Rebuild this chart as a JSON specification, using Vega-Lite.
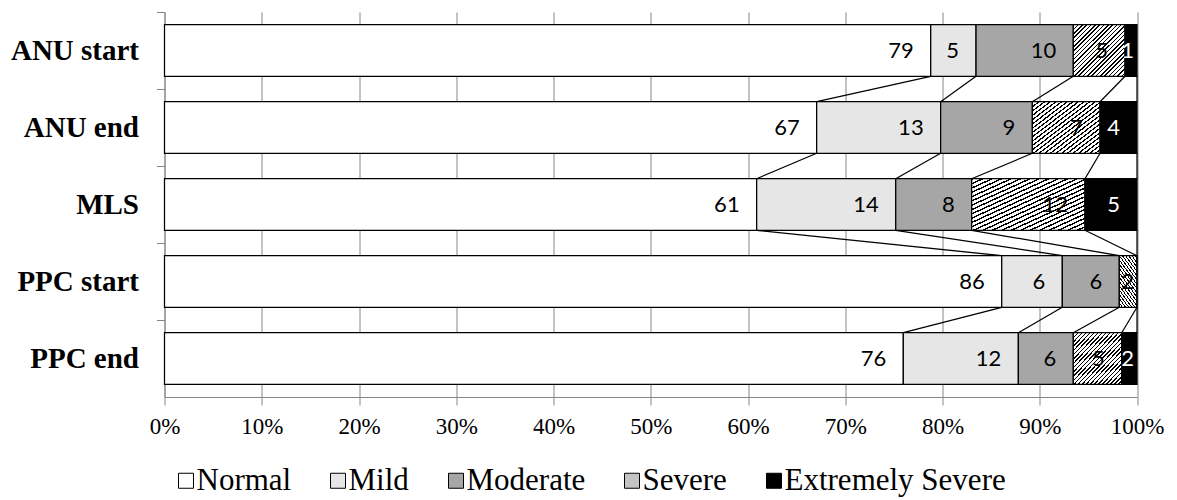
{
  "$schema": "https://vega.github.io/schema/vega-lite/v6.json",
  "width": 972.5,
  "height": 385,
  "autosize": {"type": "none"},
  "padding": {"left": 164.5, "top": 12, "right": 40, "bottom": 103},
  "config": {"view": {"stroke": null}},
  "datasets": {
    "bars": [
      {"group": "ANU start", "gi": 1, "level": "Normal", "k": 1, "value": 78.79},
      {"group": "ANU start", "gi": 1, "level": "Mild", "k": 2, "value": 4.66},
      {"group": "ANU start", "gi": 1, "level": "Moderate", "k": 3, "value": 10.00},
      {"group": "ANU start", "gi": 1, "level": "Severe", "k": 4, "value": 5.32},
      {"group": "ANU start", "gi": 1, "level": "Extremely Severe", "k": 5, "value": 1.23},
      {"group": "ANU end", "gi": 2, "level": "Normal", "k": 1, "value": 67.06},
      {"group": "ANU end", "gi": 2, "level": "Mild", "k": 2, "value": 12.75},
      {"group": "ANU end", "gi": 2, "level": "Moderate", "k": 3, "value": 9.43},
      {"group": "ANU end", "gi": 2, "level": "Severe", "k": 4, "value": 6.96},
      {"group": "ANU end", "gi": 2, "level": "Extremely Severe", "k": 5, "value": 3.80},
      {"group": "MLS", "gi": 3, "level": "Normal", "k": 1, "value": 60.89},
      {"group": "MLS", "gi": 3, "level": "Mild", "k": 2, "value": 14.30},
      {"group": "MLS", "gi": 3, "level": "Moderate", "k": 3, "value": 7.81},
      {"group": "MLS", "gi": 3, "level": "Severe", "k": 4, "value": 11.65},
      {"group": "MLS", "gi": 3, "level": "Extremely Severe", "k": 5, "value": 5.35},
      {"group": "PPC start", "gi": 4, "level": "Normal", "k": 1, "value": 86.09},
      {"group": "PPC start", "gi": 4, "level": "Mild", "k": 2, "value": 6.23},
      {"group": "PPC start", "gi": 4, "level": "Moderate", "k": 3, "value": 5.86},
      {"group": "PPC start", "gi": 4, "level": "Severe", "k": 4, "value": 1.82},
      {"group": "PPC start", "gi": 4, "level": "Extremely Severe", "k": 5, "value": 0},
      {"group": "PPC end", "gi": 5, "level": "Normal", "k": 1, "value": 75.97},
      {"group": "PPC end", "gi": 5, "level": "Mild", "k": 2, "value": 11.83},
      {"group": "PPC end", "gi": 5, "level": "Moderate", "k": 3, "value": 5.65},
      {"group": "PPC end", "gi": 5, "level": "Severe", "k": 4, "value": 4.98},
      {"group": "PPC end", "gi": 5, "level": "Extremely Severe", "k": 5, "value": 1.57}
    ]
  },
  "layer": [
    {
      "data": {"name": "bars"},
      "transform": [
        {"stack": "value", "groupby": ["group"], "sort": [{"field": "k", "order": "ascending"}], "as": ["v0", "v1"]}
      ],
      "mark": {"type": "bar", "stroke": "black", "strokeWidth": 1.25},
      "encoding": {
        "y": {
          "field": "group", "type": "nominal",
          "scale": {"domain": ["ANU start", "ANU end", "MLS", "PPC start", "PPC end"], "paddingInner": 0.33, "paddingOuter": 0.165},
          "axis": {
            "title": null, "bandPosition": 0, "tickOffset": -12.7, "labelOffset": 12.7,
            "labelFont": "Liberation Serif", "labelFontWeight": "bold", "labelFontSize": 29,
            "labelColor": "black", "labelPadding": 18, "tickSize": 8, "tickColor": "#868686",
            "domainColor": "#868686", "grid": false, "labelAlign": "right", "labelBaseline": "middle"
          }
        },
        "x": {
          "field": "v0", "type": "quantitative",
          "scale": {"domain": [0, 100], "nice": false},
          "axis": {
            "title": null, "values": [0, 10, 20, 30, 40, 50, 60, 70, 80, 90, 100],
            "labelExpr": "datum.value + '%'", "grid": true, "gridColor": "#868686", "gridWidth": 1,
            "tickSize": 8, "tickColor": "#868686", "domainColor": "#868686",
            "labelFont": "Liberation Serif", "labelFontSize": 23, "labelColor": "black",
            "labelPadding": 10, "labelFlush": false, "labelOverlap": false
          }
        },
        "x2": {"field": "v1"},
        "color": {
          "condition": {
            "test": "datum.level === 'Severe'",
            "value": {"gradient": "linear", "x1": 0, "y1": 0, "x2": 1, "y2": 1, "stops": [
              {"offset": 0, "color": "#000"}, {"offset": 0.015, "color": "#000"}, {"offset": 0.015, "color": "#fff"}, {"offset": 0.0417, "color": "#fff"},
              {"offset": 0.0417, "color": "#000"}, {"offset": 0.0567, "color": "#000"}, {"offset": 0.0567, "color": "#fff"}, {"offset": 0.0833, "color": "#fff"},
              {"offset": 0.0833, "color": "#000"}, {"offset": 0.0983, "color": "#000"}, {"offset": 0.0983, "color": "#fff"}, {"offset": 0.125, "color": "#fff"},
              {"offset": 0.125, "color": "#000"}, {"offset": 0.14, "color": "#000"}, {"offset": 0.14, "color": "#fff"}, {"offset": 0.1667, "color": "#fff"},
              {"offset": 0.1667, "color": "#000"}, {"offset": 0.1817, "color": "#000"}, {"offset": 0.1817, "color": "#fff"}, {"offset": 0.2083, "color": "#fff"},
              {"offset": 0.2083, "color": "#000"}, {"offset": 0.2233, "color": "#000"}, {"offset": 0.2233, "color": "#fff"}, {"offset": 0.25, "color": "#fff"},
              {"offset": 0.25, "color": "#000"}, {"offset": 0.265, "color": "#000"}, {"offset": 0.265, "color": "#fff"}, {"offset": 0.2917, "color": "#fff"},
              {"offset": 0.2917, "color": "#000"}, {"offset": 0.3067, "color": "#000"}, {"offset": 0.3067, "color": "#fff"}, {"offset": 0.3333, "color": "#fff"},
              {"offset": 0.3333, "color": "#000"}, {"offset": 0.3483, "color": "#000"}, {"offset": 0.3483, "color": "#fff"}, {"offset": 0.375, "color": "#fff"},
              {"offset": 0.375, "color": "#000"}, {"offset": 0.39, "color": "#000"}, {"offset": 0.39, "color": "#fff"}, {"offset": 0.4167, "color": "#fff"},
              {"offset": 0.4167, "color": "#000"}, {"offset": 0.4317, "color": "#000"}, {"offset": 0.4317, "color": "#fff"}, {"offset": 0.4583, "color": "#fff"},
              {"offset": 0.4583, "color": "#000"}, {"offset": 0.4733, "color": "#000"}, {"offset": 0.4733, "color": "#fff"}, {"offset": 0.5, "color": "#fff"},
              {"offset": 0.5, "color": "#000"}, {"offset": 0.515, "color": "#000"}, {"offset": 0.515, "color": "#fff"}, {"offset": 0.5417, "color": "#fff"},
              {"offset": 0.5417, "color": "#000"}, {"offset": 0.5567, "color": "#000"}, {"offset": 0.5567, "color": "#fff"}, {"offset": 0.5833, "color": "#fff"},
              {"offset": 0.5833, "color": "#000"}, {"offset": 0.5983, "color": "#000"}, {"offset": 0.5983, "color": "#fff"}, {"offset": 0.625, "color": "#fff"},
              {"offset": 0.625, "color": "#000"}, {"offset": 0.64, "color": "#000"}, {"offset": 0.64, "color": "#fff"}, {"offset": 0.6667, "color": "#fff"},
              {"offset": 0.6667, "color": "#000"}, {"offset": 0.6817, "color": "#000"}, {"offset": 0.6817, "color": "#fff"}, {"offset": 0.7083, "color": "#fff"},
              {"offset": 0.7083, "color": "#000"}, {"offset": 0.7233, "color": "#000"}, {"offset": 0.7233, "color": "#fff"}, {"offset": 0.75, "color": "#fff"},
              {"offset": 0.75, "color": "#000"}, {"offset": 0.765, "color": "#000"}, {"offset": 0.765, "color": "#fff"}, {"offset": 0.7917, "color": "#fff"},
              {"offset": 0.7917, "color": "#000"}, {"offset": 0.8067, "color": "#000"}, {"offset": 0.8067, "color": "#fff"}, {"offset": 0.8333, "color": "#fff"},
              {"offset": 0.8333, "color": "#000"}, {"offset": 0.8483, "color": "#000"}, {"offset": 0.8483, "color": "#fff"}, {"offset": 0.875, "color": "#fff"},
              {"offset": 0.875, "color": "#000"}, {"offset": 0.89, "color": "#000"}, {"offset": 0.89, "color": "#fff"}, {"offset": 0.9167, "color": "#fff"},
              {"offset": 0.9167, "color": "#000"}, {"offset": 0.9317, "color": "#000"}, {"offset": 0.9317, "color": "#fff"}, {"offset": 0.9583, "color": "#fff"},
              {"offset": 0.9583, "color": "#000"}, {"offset": 0.9733, "color": "#000"}, {"offset": 0.9733, "color": "#fff"}, {"offset": 1, "color": "#fff"}
            ]}
          },
          "field": "level", "type": "nominal",
          "scale": {
            "domain": ["Normal", "Mild", "Moderate", "Severe", "Extremely Severe"],
            "range": ["#ffffff", "#e6e6e6", "#a6a6a6", "#c4c4c4", "#000000"]
          },
          "legend": {
            "orient": "none", "legendX": 6, "legendY": 453, "direction": "horizontal", "title": null,
            "symbolType": "square", "symbolSize": 225, "symbolStrokeColor": "black", "symbolStrokeWidth": 1,
            "symbolOpacity": 1,
            "labelFont": "Liberation Serif", "labelFontSize": 31, "labelColor": "black",
            "labelOffset": -5, "columnPadding": 31, "labelLimit": 400,
            "encode": {"symbols": {"update": {
              "stroke": {"value": "black"}, "strokeWidth": {"value": 1},
              "fill": [
                {"test": "datum.value === 'Severe'", "value": {"gradient": "linear", "x1": 0, "y1": 0, "x2": 1, "y2": 1, "stops": [
                  {"offset": 0, "color": "#fff"}, {"offset": 0.08, "color": "#fff"}, {"offset": 0.08, "color": "#000"}, {"offset": 0.14, "color": "#000"},
                  {"offset": 0.14, "color": "#fff"}, {"offset": 0.26, "color": "#fff"}, {"offset": 0.26, "color": "#000"}, {"offset": 0.32, "color": "#000"},
                  {"offset": 0.32, "color": "#fff"}, {"offset": 0.44, "color": "#fff"}, {"offset": 0.44, "color": "#000"}, {"offset": 0.5, "color": "#000"},
                  {"offset": 0.5, "color": "#fff"}, {"offset": 0.62, "color": "#fff"}, {"offset": 0.62, "color": "#000"}, {"offset": 0.68, "color": "#000"},
                  {"offset": 0.68, "color": "#fff"}, {"offset": 0.8, "color": "#fff"}, {"offset": 0.8, "color": "#000"}, {"offset": 0.86, "color": "#000"},
                  {"offset": 0.86, "color": "#fff"}, {"offset": 1, "color": "#fff"}
                ]}},
                {"scale": "color", "field": "value"}
              ]
            }}}
          }
        }
      }
    },
    {
      "data": {"name": "bars"},
      "transform": [
        {"stack": "value", "groupby": ["group"], "sort": [{"field": "k", "order": "ascending"}], "as": ["v0", "v1"]},
        {"window": [{"op": "lead", "field": "v1", "as": "b"}, {"op": "lead", "field": "group", "as": "to"}], "groupby": ["level"], "sort": [{"field": "gi", "order": "ascending"}]},
        {"filter": "datum.to != null"}
      ],
      "mark": {"type": "rule", "color": "black", "strokeWidth": 1.25},
      "encoding": {
        "x": {"field": "v1", "type": "quantitative"},
        "x2": {"field": "b"},
        "y": {"field": "group", "type": "nominal", "bandPosition": 1},
        "y2": {"field": "to", "bandPosition": 0}
      }
    },
    {
      "data": {"name": "bars"},
      "transform": [
        {"stack": "value", "groupby": ["group"], "sort": [{"field": "k", "order": "ascending"}], "as": ["v0", "v1"]},
        {"filter": "datum.value >= 3"}
      ],
      "mark": {"type": "text", "align": "right", "baseline": "middle", "dx": -17, "font": "Lato", "fontSize": 22},
      "encoding": {
        "x": {"field": "v1", "type": "quantitative"},
        "y": {"field": "group", "type": "nominal"},
        "text": {"field": "value", "type": "quantitative", "format": ".0f"},
        "color": {"condition": {"test": "datum.level === 'Extremely Severe'", "value": "white"}, "value": "black"}
      }
    },
    {
      "data": {"name": "bars"},
      "transform": [
        {"stack": "value", "groupby": ["group"], "sort": [{"field": "k", "order": "ascending"}], "as": ["v0", "v1"]},
        {"filter": "datum.value > 0 && datum.value < 3"}
      ],
      "mark": {"type": "text", "align": "right", "baseline": "middle", "dx": -3, "font": "Lato", "fontSize": 22},
      "encoding": {
        "x": {"field": "v1", "type": "quantitative"},
        "y": {"field": "group", "type": "nominal"},
        "text": {"field": "value", "type": "quantitative", "format": ".0f"},
        "color": {"condition": {"test": "datum.level === 'Extremely Severe'", "value": "white"}, "value": "black"}
      }
    }
  ]
}
